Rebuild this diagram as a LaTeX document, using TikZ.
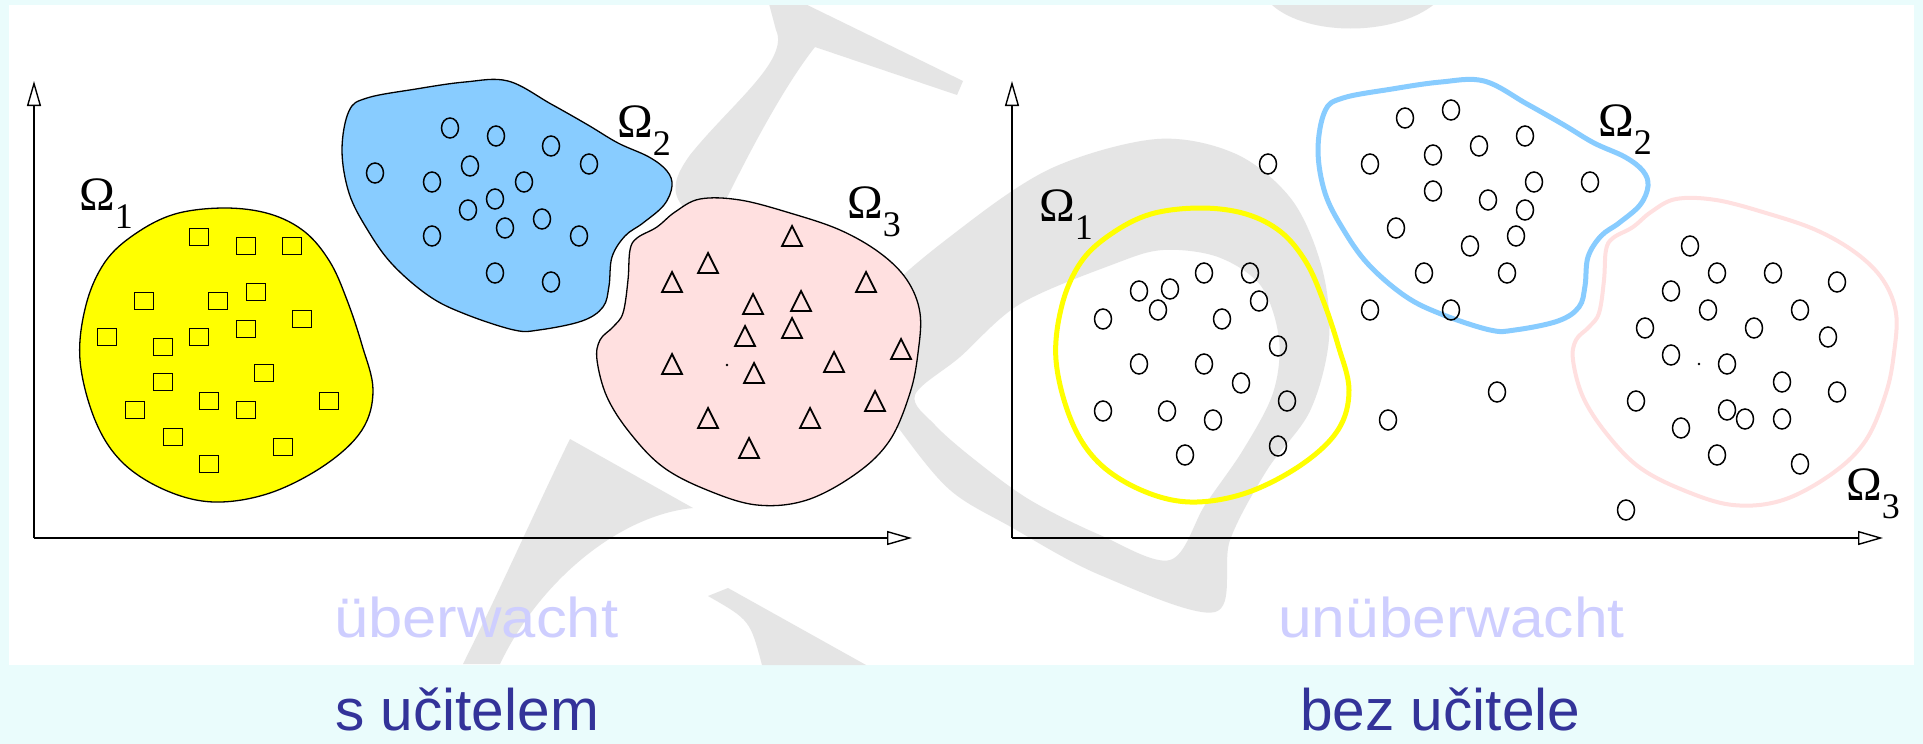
\documentclass[tikz,border=0pt]{standalone}
\usepackage{fontspec}
\setmainfont{Liberation Sans}
\newfontfamily\omfont{Liberation Serif}
\usetikzlibrary{arrows.meta}

\definecolor{pagebg}{RGB}{234,252,252}
\definecolor{labelblue}{RGB}{51,51,153}
\definecolor{faintblue}{RGB}{206,206,255}
\definecolor{wmgrey}{RGB}{229,229,229}
\definecolor{clyellow}{RGB}{255,255,0}
\definecolor{clblue}{RGB}{136,204,255}
\definecolor{clpink}{RGB}{255,224,224}

% cluster outlines, shared by both panels
\newcommand\yellowblob{plot[smooth cycle,tension=0.6] coordinates {(225,208) (270,214) (305,232) (330,262) (347,300) (362,345) (373,390) (362,430) (325,465) (270,493) (214,502) (165,490) (122,462) (95,420) (80,360) (86,305) (105,262) (135,234) (175,214)}}
\newcommand\blueblob{plot[smooth cycle,tension=0.6] coordinates {(465,82) (508,81) (551,104) (588,125) (618,143) (649,157) (667,171) (672,186) (664,205) (643,223) (625,236) (612,257) (609,286) (603,307) (582,321) (539,330) (514,330) (465,314) (429,296) (392,264) (367,229) (349,193) (342,150) (349,111) (367,98) (416,89)}}
\newcommand\pinkblob{plot[smooth cycle,tension=0.6] coordinates {(700,199) (740,200) (790,213) (840,230) (880,253) (907,280) (920,313) (918,353) (910,393) (890,440) (857,473) (807,500) (757,505) (707,490) (663,467) (630,433) (607,397) (597,360) (600,340) (613,327) (623,313) (628,280) (630,250) (637,238) (657,227) (675,212)}}
\newcommand\omsub[1]{\raisebox{-18pt}{\fontsize{36}{36}\selectfont #1}}

\tikzset{
  axis/.style={line width=1.6pt,-{Triangle[open,length=25pt,width=14pt,line width=1.4pt]}},
  region/.style={draw=black,line width=1.3pt},
  loop/.style={line width=5pt},
  sqmark/.style={draw=black,line width=1.8pt},
  circmark/.style={draw=black,line width=1.5pt},
  trimark/.style={draw=black,line width=1.8pt,line join=miter},
  omlab/.style={anchor=base west,inner sep=0pt,font=\omfont\fontsize{48}{48}\selectfont},
  wm/.style={fill=wmgrey},
  faintlab/.style={anchor=base west,inner sep=0pt,text=faintblue,font=\fontsize{56}{60}\selectfont},
  caption/.style={anchor=base west,inner sep=0pt,text=labelblue,font=\fontsize{58.6}{64}\selectfont},
}

\begin{document}
\begin{tikzpicture}[x=1pt,y=-1pt]
\useasboundingbox (0,0) rectangle (1923,744);
\fill[pagebg] (0,0) rectangle (1923,744);
\fill[white] (9,5) rectangle (1914,665);

% grey watermark behind both panels
\begin{scope}
  \clip (9,5) rectangle (1914,665);
  % upper arch with its hooked top
  \fill[wm] (768,0) -- (797,0) -- (963,81) -- (957,95) -- (815,47)
            .. controls (785,85) and (750,150) .. (720,212) -- (688,212)
            .. controls (670,195) and (672,180) .. (690,155)
            .. controls (730,105) and (790,60) .. (776,30) -- cycle;
  % left foot
  \fill[wm] (570,439) -- (693,508) .. controls (620,515) and (540,580) .. (500,664) -- (463,664)
            .. controls (500,590) and (540,500) .. (570,439) -- cycle;
  % lower wedge
  \fill[wm] (708,596) -- (728,588) -- (866,665) -- (762,665) .. controls (750,620) .. (708,596) -- cycle;
  % bowl
  \fill[wm,even odd rule]
     plot[smooth cycle,tension=0.55] coordinates {(880,300) (960,229) (1052,168) (1157,139) (1236,154) (1292,200) (1322,268) (1329,339) (1310,411) (1267,470) (1230,540) (1215,612) (1100,575) (1011,527) (950,490) (900,430) (860,370)}
     plot[smooth cycle,tension=0.55] coordinates {(915,395) (960,357) (1020,304) (1114,264) (1163,250) (1218,257) (1261,286) (1279,339) (1273,393) (1243,450) (1205,505) (1170,560) (1100,535) (1030,500) (975,460) (935,425)};
  % cap at the top edge
  \fill[wm] (1267,0) .. controls (1300,38) and (1400,38) .. (1439,0) -- cycle;
\end{scope}

% ---------- left panel: labelled classes ----------
\fill[clyellow] \yellowblob;  \draw[region] \yellowblob;
\fill[clblue] \blueblob;      \draw[region] \blueblob;
\fill[clpink] \pinkblob;      \draw[region] \pinkblob;

\foreach \x/\y in {199/237,246/246,292/246,144/301,218/301,256/292,302/319,107/337,163/347,199/337,246/329,264/373,163/382,209/401,246/410,135/410,329/401,173/437,283/447,209/464}
  \draw[sqmark] (\x,\y) ++(-9.5,-8.5) rectangle ++(19,17);
\foreach \x/\y in {450/128,496/136,551/146,589/164,375/173,432/182,470/166,524/182,495/199,468/210,542/219,505/228,432/236,579/236,495/273,551/282}
  \draw[circmark] (\x,\y) ellipse [x radius=8.5pt,y radius=10pt];
\foreach \x/\y in {792/237,708/264,672/283,866/283,753/305,801/302,745/337,792/329,901/350,672/365,754/374,834/363,875/402,708/419,810/419,749/449}
  \draw[trimark] (\x,\y) ++(0,-11) -- ++(10,20) -- ++(-20,0) -- cycle;
\fill (727,365) circle (1.3pt);

\coordinate (Lo) at (34,538);
\coordinate (Ly) at (34,81);
\coordinate (Lx) at (912,538);
\draw[axis] (Lo) -- (Ly);
\draw[axis] (Lo) -- (Lx);

\node[omlab] (LO1) at (79,210)  {Ω\omsub{1}};
\node[omlab] (LO2) at (617,137) {Ω\omsub{2}};
\node[omlab] (LO3) at (847,218) {Ω\omsub{3}};

% ---------- right panel: unlabelled data with cluster outlines ----------
\begin{scope}[xshift=976pt]
  \draw[loop,draw=clyellow] \yellowblob;
  \draw[loop,draw=clblue] \blueblob;
  \draw[loop,line width=4pt,draw=clpink] \pinkblob;
\end{scope}

\foreach \x/\y in {1451/110,1405/118,1525/136,1479/146,1433/155,1268/164,1370/164,1534/182,1590/182,1433/191,1488/200,1525/210,1396/228,1516/236,1470/246,1424/273,1507/273,1370/310,1451/310,
  1204/273,1250/273,1139/291,1170/289,1158/310,1259/301,1103/319,1222/319,1278/346,1139/364,1204/364,1241/383,1287/401,1103/411,1167/411,1213/420,1278/446,1185/455,
  1497/392,1388/420,1626/510,
  1690/246,1717/273,1773/273,1837/282,1671/291,1708/310,1800/310,1645/328,1754/328,1828/337,1671/355,1727/364,1782/382,1837/392,1636/401,1727/410,1745/419,1782/419,1681/428,1717/455,1800/464}
  \draw[circmark] (\x,\y) ellipse [x radius=8.5pt,y radius=10pt];
\fill (1699,364) circle (1.3pt);

\coordinate (Ro) at (1012,538);
\coordinate (Ry) at (1012,81);
\coordinate (Rx) at (1883,538);
\draw[axis] (Ro) -- (Ry);
\draw[axis] (Ro) -- (Rx);

\node[omlab] (RO1) at (1039,221) {Ω\omsub{1}};
\node[omlab] (RO2) at (1598,136) {Ω\omsub{2}};
\node[omlab] (RO3) at (1846,500) {Ω\omsub{3}};

% ---------- captions ----------
\node[faintlab] (uw)  at (334,637)  {\scalebox{1.1}[1]{überwacht}};
\node[faintlab] (nuw) at (1278,637) {\scalebox{1.08}[1]{unüberwacht}};
\node[caption] (su) at (335,730)  {s učitelem};
\node[caption] (bu) at (1300,730) {bez učitele};
\end{tikzpicture}
\end{document}
